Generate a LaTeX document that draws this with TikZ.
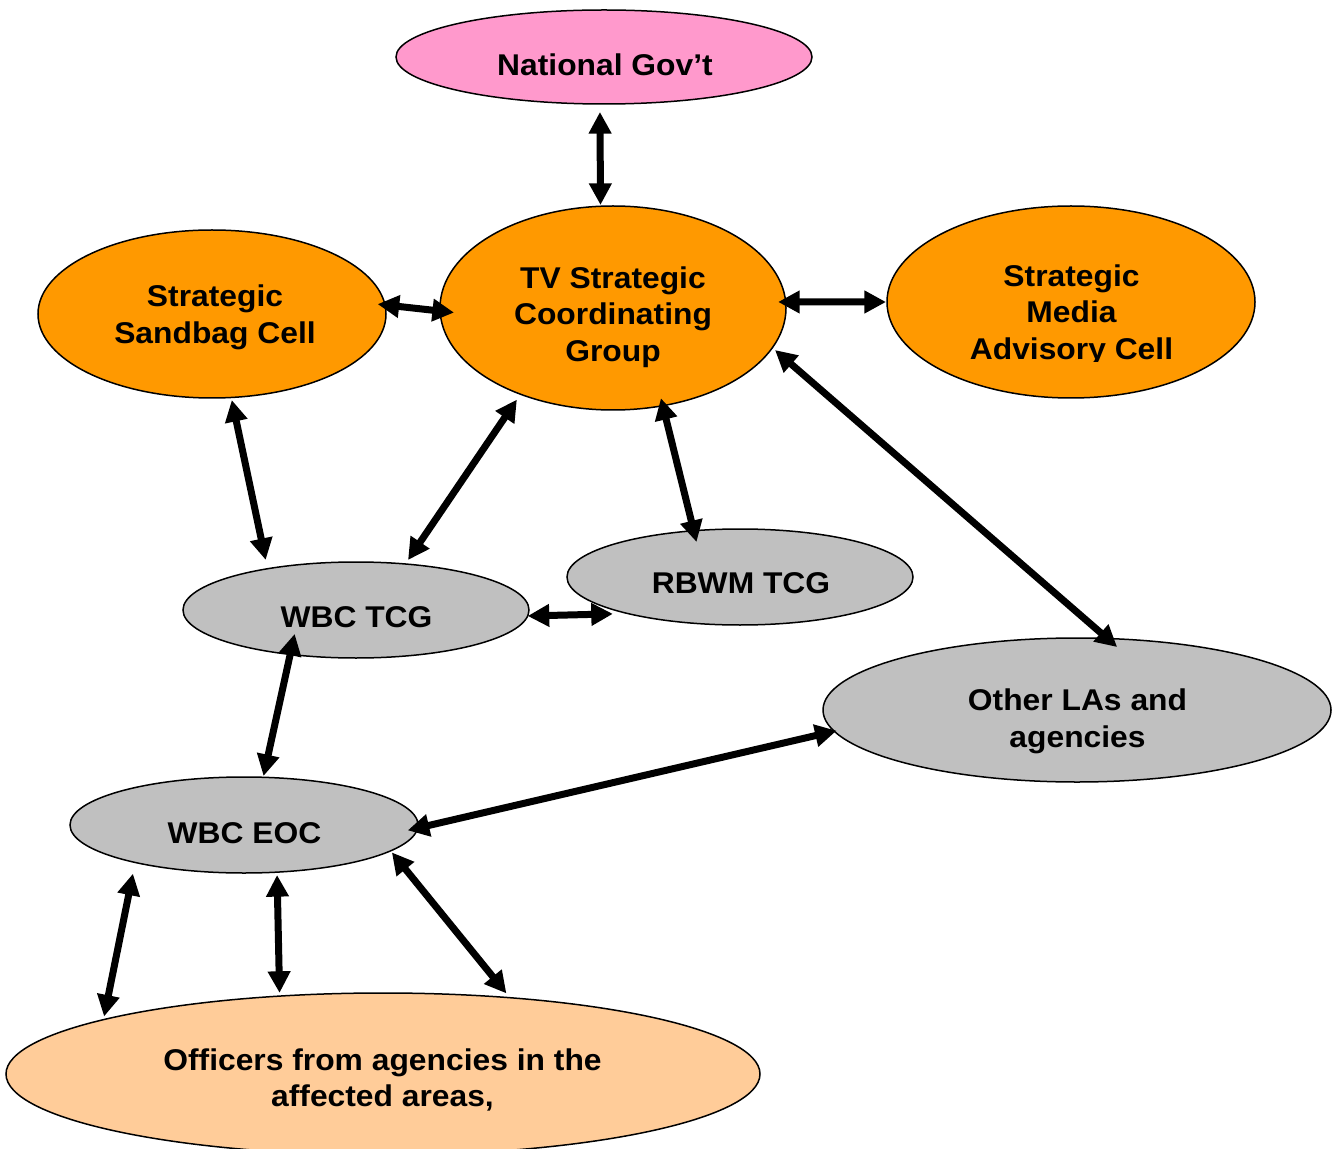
\documentclass[tikz,border=0pt]{standalone}
\usepackage{fontspec}
\setmainfont{Liberation Sans}[FakeStretch=1.06]
\usetikzlibrary{arrows.meta,shapes.geometric}
\definecolor{govpink}{HTML}{FF99CC}
\definecolor{stratorange}{HTML}{FF9900}
\definecolor{tcggray}{HTML}{C0C0C0}
\definecolor{fieldpeach}{HTML}{FFCC99}

\begin{document}
\begin{tikzpicture}[x=0.5pt,y=-0.5pt,
  blob/.style={ellipse, draw=black, line width=0.75pt, outer sep=0pt, inner sep=0pt},
  lbl/.style={font=\fontsize{15}{18.35}\selectfont\bfseries, align=center, inner sep=0pt},
  link/.style={line width=3.5pt,
    {Triangle[length=10.8pt,width=10.8pt]}-{Triangle[length=10.8pt,width=10.8pt]}}
]
% page
\fill[white] (0,0) rectangle (1337,1149);
\useasboundingbox (0,0) rectangle (1337,1149);

% bodies
\node[blob, fill=govpink,     minimum width=208pt, minimum height=47pt]  (nat)   at (604,57)   {};
\node[blob, fill=stratorange, minimum width=173pt, minimum height=102pt] (tv)    at (613,308)  {};
\node[blob, fill=stratorange, minimum width=174pt, minimum height=84pt]  (sand)  at (212,314)  {};
\node[blob, fill=stratorange, minimum width=184pt, minimum height=96pt]  (media) at (1071,302) {};
\node[blob, fill=tcggray,     minimum width=173pt, minimum height=48pt]  (rbwm)  at (740,577)  {};
\node[blob, fill=tcggray,     minimum width=173pt, minimum height=48pt]  (wtcg)  at (356,610)  {};
\node[blob, fill=tcggray,     minimum width=254pt, minimum height=72pt]  (other) at (1077,710) {};
\node[blob, fill=tcggray,     minimum width=174pt, minimum height=48pt]  (eoc)   at (244,825)  {};
\node[blob, fill=fieldpeach,  minimum width=377pt, minimum height=81pt]  (off)   at (383,1074) {};

% labels
\node[lbl] (natlbl)   at (605,65)     {National Gov’t};
\node[lbl] (tvlbl)    at (613,317)    {TV Strategic\\Coordinating\\Group};
\node[lbl] (sandlbl)  at (215,317)    {Strategic\\Sandbag Cell};
\begin{scope}
  \clip (880,200) rectangle (1260,362);
  \node[lbl] (medialbl) at (1071.5,315) {Strategic\\Media\\Advisory Cell};
\end{scope}
\node[lbl] (rbwmlbl)  at (741,583.5)  {RBWM TCG};
\node[lbl] (wtcglbl)  at (356.5,617)  {WBC TCG};
\node[lbl] (otherlbl) at (1077.5,721) {Other LAs and\\agencies};
\node[lbl] (eoclbl)   at (244.5,833)  {WBC EOC};
\node[lbl] (offlbl)   at (382.5,1080) {Officers from agencies in the\\affected areas,};

% two-way links
\draw[link, shorten <=4pt,     shorten >=0.65pt] (nat.265.1)  -- (tv.97.3);
\draw[link, shorten <=-3.7pt,  shorten >=-7pt]   (sand.3.9)   -- (tv.181.2);
\draw[link, shorten <=-3.8pt,  shorten >=0.5pt]  (tv.2.3)     -- (media.180);
\draw[link, shorten <=1.3pt,   shorten >=4.5pt]  (sand.283.1) -- (wtcg.155.2);
\draw[link, shorten <=3.25pt,  shorten >=2.4pt]  (tv.223.5)   -- (wtcg.43);
\draw[link, shorten <=-3.85pt, shorten >=-5.8pt] (tv.297.5)   -- (rbwm.135.3);
\draw[link, shorten <=1.75pt,  shorten >=-6.5pt] (tv.346)     -- (other.67.8);
\draw[link, shorten <=0pt,     shorten >=7.4pt]  (wtcg.358.7) -- (rbwm.198.6);
\draw[link, shorten <=-10.5pt, shorten >=0.65pt] (wtcg.214.1) -- (eoc.68.6);
\draw[link, shorten <=-5.1pt,  shorten >=-1.2pt] (eoc.359.7)  -- (other.185.3);
\draw[link, shorten <=5.7pt,   shorten >=1.6pt]  (eoc.199.6)  -- (off.169.2);
\draw[link, shorten <=1.45pt,  shorten >=1.6pt]  (eoc.305.8)  -- (off.143.5);
\draw[link, shorten <=1pt,     shorten >=2.8pt]  (eoc.350.2)  -- (off.31.8);
\end{tikzpicture}
\end{document}
